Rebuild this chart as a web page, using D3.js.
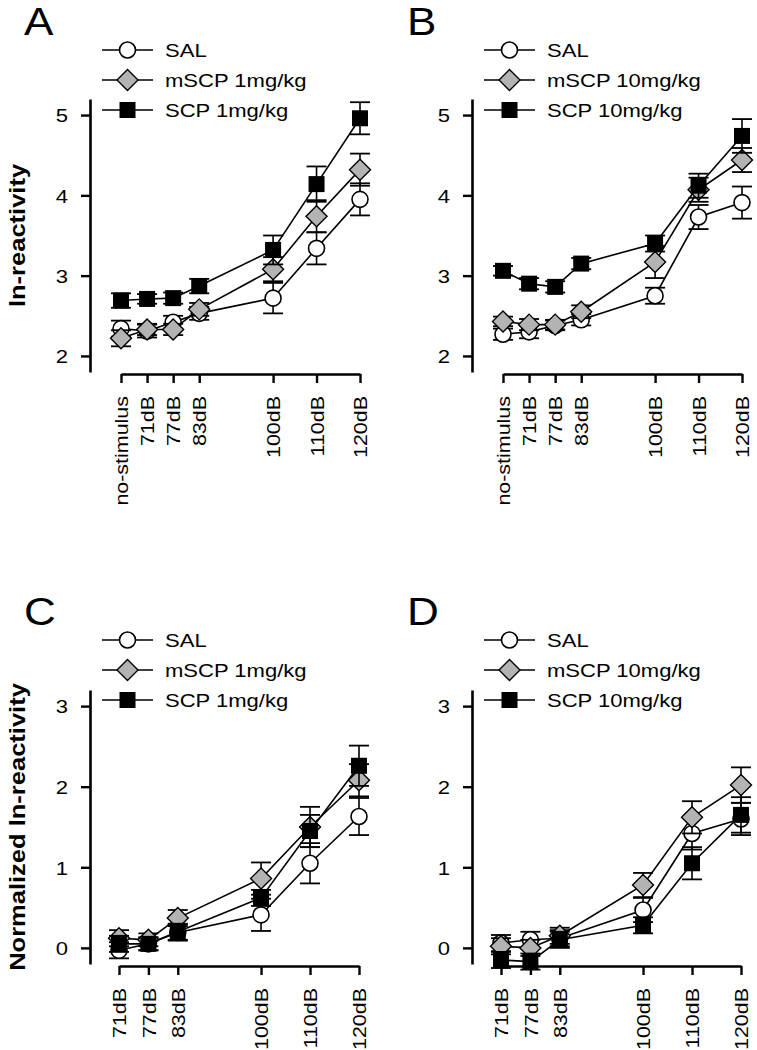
<!DOCTYPE html>
<html><head><meta charset="utf-8">
<script src="https://cdn.jsdelivr.net/npm/d3@7"></script>
<style>body{margin:0;background:#fff}svg{display:block}</style>
</head><body>
<script>
// ---------- data ----------
const seriesNames = ["SAL", "mSCP", "SCP"];
const legendAC = ["SAL", "mSCP 1mg/kg", "SCP 1mg/kg"];
const legendBD = ["SAL", "mSCP 10mg/kg", "SCP 10mg/kg"];

const xLabelsAB = ["no-stimulus", "71dB", "77dB", "83dB", "100dB", "110dB", "120dB"];
const xPosAB = [65, 71, 77, 83, 100, 110, 120];
const xLabelsCD = ["71dB", "77dB", "83dB", "100dB", "110dB", "120dB"];
const xPosCD = [71, 77, 83, 100, 110, 120];

const yTicksAB = [2, 3, 4, 5];
const yTicksCD = [0, 1, 2, 3];

const A_SAL = [2.34, 2.31, 2.42, 2.53, 2.72, 3.34, 3.95];
const A_SAL_err = [0.10, 0.08, 0.08, 0.08, 0.19, 0.20, 0.20];
const A_mSCP = [2.22, 2.33, 2.33, 2.58, 3.08, 3.74, 4.32];
const A_mSCP_err = [0.10, 0.07, 0.07, 0.08, 0.15, 0.20, 0.20];
const A_SCP = [2.69, 2.71, 2.72, 2.87, 3.32, 4.14, 4.96];
const A_SCP_err = [0.09, 0.06, 0.07, 0.09, 0.18, 0.22, 0.20];

const B_SAL = [2.27, 2.30, 2.38, 2.45, 2.75, 3.73, 3.91];
const B_SAL_err = [0.07, 0.08, 0.06, 0.07, 0.10, 0.15, 0.20];
const B_mSCP = [2.43, 2.39, 2.39, 2.55, 3.17, 4.07, 4.44];
const B_mSCP_err = [0.06, 0.07, 0.06, 0.08, 0.20, 0.15, 0.15];
const B_SCP = [3.06, 2.90, 2.86, 3.15, 3.40, 4.12, 4.74];
const B_SCP_err = [0.06, 0.07, 0.07, 0.07, 0.10, 0.15, 0.21];

const C_SAL = [-0.03, 0.05, 0.19, 0.41, 1.05, 1.63];
const C_SAL_err = [0.10, 0.08, 0.10, 0.20, 0.25, 0.23];
const C_mSCP = [0.12, 0.10, 0.37, 0.86, 1.50, 2.08];
const C_mSCP_err = [0.10, 0.08, 0.10, 0.20, 0.25, 0.20];
const C_SCP = [0.05, 0.05, 0.20, 0.62, 1.45, 2.26];
const C_SCP_err = [0.10, 0.08, 0.10, 0.10, 0.20, 0.25];

const D_SAL = [0.06, 0.10, 0.12, 0.47, 1.42, 1.60];
const D_SAL_err = [0.10, 0.10, 0.10, 0.15, 0.20, 0.20];
const D_mSCP = [0.02, 0.00, 0.15, 0.78, 1.62, 2.02];
const D_mSCP_err = [0.10, 0.10, 0.10, 0.15, 0.20, 0.22];
const D_SCP = [-0.15, -0.17, 0.10, 0.28, 1.05, 1.65];
const D_SCP_err = [0.10, 0.10, 0.10, 0.10, 0.20, 0.22];

// ---------- drawing ----------
const W = 757, H = 1050, SX = 1.16, FONT = "'Liberation Sans', Arial, sans-serif";
const svg = d3.select("body").append("svg").attr("width", W).attr("height", H)
  .style("font-family", FONT);

function stext(g, x, y, str, size, anchor, rot, weight) {
  return g.append("text")
    .attr("transform", `translate(${x},${y})` + (rot ? " rotate(-90)" : "") + ` scale(${SX},1)`)
    .attr("text-anchor", anchor).attr("font-size", size)
    .attr("font-weight", weight || "normal").attr("fill", "#000").text(str);
}

const GRAY = "#b3b3b3";
function marker(g, kind, x, y) {
  if (kind === "SAL") g.append("circle").attr("cx", x).attr("cy", y).attr("r", 8)
    .attr("fill", "#fff").attr("stroke", "#000").attr("stroke-width", 1.6);
  else if (kind === "mSCP") {
    const r = 10.5;
    g.append("path").attr("d", `M${x},${y - r}L${x + r},${y}L${x},${y + r}L${x - r},${y}Z`)
      .attr("fill", GRAY).attr("stroke", "#000").attr("stroke-width", 1.4);
  }
  else g.append("rect").attr("x", x - 8).attr("y", y - 8).attr("width", 16).attr("height", 16)
    .attr("fill", "#000");
}

function panel(cfg) {
  const g = svg.append("g");
  const x = d3.scaleLinear().domain([cfg.xPos[0], cfg.xPos[cfg.xPos.length - 1]]).range(cfg.xRange);
  const y = d3.scaleLinear().domain(cfg.yDomain).range(cfg.yRange);

  // y axis
  const ya = g.append("g").attr("transform", `translate(${cfg.axisX},0)`)
    .call(d3.axisLeft(y).tickValues(cfg.yTicks).tickFormat(d3.format("d")).tickSize(9).tickSizeOuter(0));
  ya.select(".domain").attr("stroke-width", 2.6);
  ya.selectAll(".tick line").attr("stroke-width", 2.4);
  ya.selectAll(".tick text").attr("x", 0).attr("dy", "0.36em").attr("font-size", 19)
    .attr("font-family", FONT).attr("transform", `translate(-22,0) scale(${SX},1)`);

  // x axis
  const xa = g.append("g").attr("transform", `translate(0,${cfg.yRange[0] + 2})`)
    .call(d3.axisBottom(x).tickValues(cfg.xPos).tickFormat((d, i) => cfg.xLabels[i]).tickSize(9).tickSizeOuter(0));
  xa.select(".domain").attr("stroke-width", 2.6);
  xa.selectAll(".tick line").attr("stroke-width", 2.4);
  xa.selectAll(".tick text").attr("x", 0).attr("y", 0).attr("dy", "0.36em").attr("font-size", 18.5)
    .attr("font-family", FONT).attr("text-anchor", "end")
    .attr("transform", `translate(0,22) rotate(-90) scale(${SX},1)`);

  // data
  const line = d3.line().x(d => x(d[0])).y(d => y(d[1]));
  cfg.series.forEach((s, k) => {
    const pts = cfg.xPos.map((xv, i) => [xv, s.v[i], s.e[i]]);
    const sg = g.append("g");
    sg.append("path").attr("d", line(pts)).attr("fill", "none").attr("stroke", "#000").attr("stroke-width", 1.6);
    pts.forEach(p => {
      const px = x(p[0]), y1 = y(p[1] + p[2]), y2 = y(p[1] - p[2]);
      sg.append("line").attr("x1", px).attr("x2", px).attr("y1", y1).attr("y2", y2).attr("stroke", "#000").attr("stroke-width", 1.6);
      [y1, y2].forEach(yy => sg.append("line").attr("x1", px - 10).attr("x2", px + 10).attr("y1", yy).attr("y2", yy)
        .attr("stroke", "#000").attr("stroke-width", 1.8));
    });
    pts.forEach(p => marker(sg, seriesNames[k], x(p[0]), y(p[1])));
  });

  // legend
  cfg.legend.forEach((lab, k) => {
    const ly = cfg.legendY + k * 30, lx = cfg.legendX;
    g.append("line").attr("x1", lx).attr("x2", lx + 51).attr("y1", ly).attr("y2", ly).attr("stroke", "#000").attr("stroke-width", 1.6);
    marker(g, seriesNames[k], lx + 25.5, ly);
    stext(g, lx + 63, ly + 7, lab, 19, "start");
  });

  // panel letter
  stext(g, cfg.letterX, cfg.letterY, cfg.letter, 38, "start");
  if (cfg.yLabel) stext(g, 25, (cfg.yRange[0] + cfg.yRange[1]) / 2, cfg.yLabel, 22, "middle", true, "bold");
}

panel({ letter: "A", letterX: 24, letterY: 35, axisX: 90, xRange: [121, 360], yDomain: [1.8, 5.2], yRange: [372, 99],
  xPos: xPosAB, xLabels: xLabelsAB, yTicks: yTicksAB, legend: legendAC, legendX: 102, legendY: 50,
  yLabel: "ln-reactivity",
  series: [{ v: A_SAL, e: A_SAL_err }, { v: A_mSCP, e: A_mSCP_err }, { v: A_SCP, e: A_SCP_err }] });
panel({ letter: "B", letterX: 407, letterY: 35, axisX: 472, xRange: [503, 742], yDomain: [1.8, 5.2], yRange: [372, 99],
  xPos: xPosAB, xLabels: xLabelsAB, yTicks: yTicksAB, legend: legendBD, legendX: 484, legendY: 50,
  series: [{ v: B_SAL, e: B_SAL_err }, { v: B_mSCP, e: B_mSCP_err }, { v: B_SCP, e: B_SCP_err }] });
panel({ letter: "C", letterX: 24, letterY: 625, axisX: 90, xRange: [119, 359], yDomain: [-0.2, 3.2], yRange: [964, 690],
  xPos: xPosCD, xLabels: xLabelsCD, yTicks: yTicksCD, legend: legendAC, legendX: 102, legendY: 640,
  yLabel: "Normalized ln-reactivity",
  series: [{ v: C_SAL, e: C_SAL_err }, { v: C_mSCP, e: C_mSCP_err }, { v: C_SCP, e: C_SCP_err }] });
panel({ letter: "D", letterX: 407, letterY: 625, axisX: 472, xRange: [501, 741], yDomain: [-0.2, 3.2], yRange: [964, 690],
  xPos: xPosCD, xLabels: xLabelsCD, yTicks: yTicksCD, legend: legendBD, legendX: 484, legendY: 640,
  series: [{ v: D_SAL, e: D_SAL_err }, { v: D_mSCP, e: D_mSCP_err }, { v: D_SCP, e: D_SCP_err }] });
</script>
</body></html>
